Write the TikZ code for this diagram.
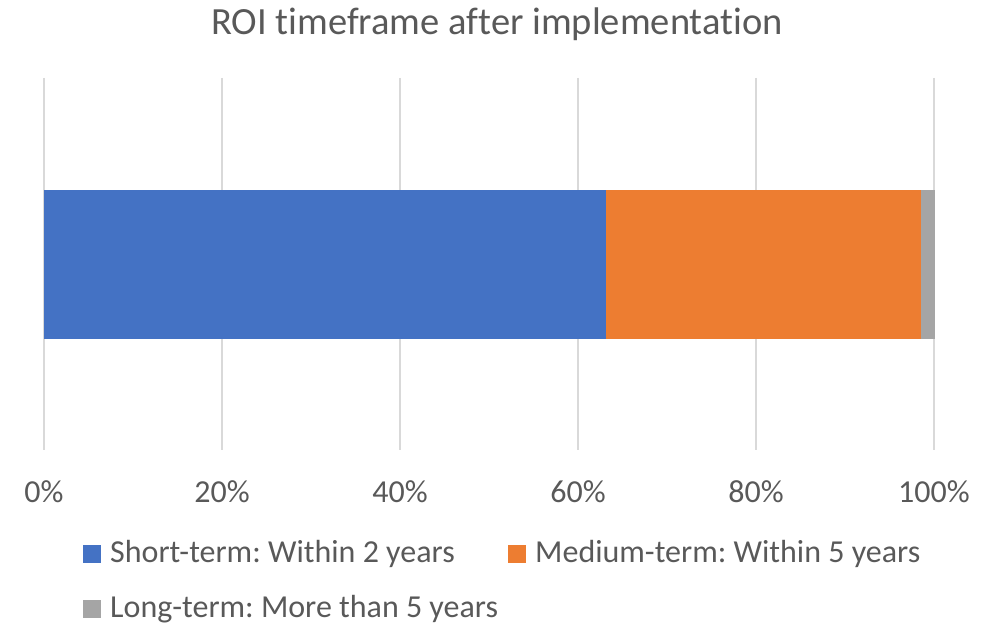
\documentclass[tikz,border=0pt]{standalone}
\usepackage{fontspec}
\setmainfont{Carlito}[Ligatures=NoCommon]
\frenchspacing
\definecolor{txt}{HTML}{595959}
\definecolor{gridc}{HTML}{D9D9D9}
\definecolor{sblue}{HTML}{4472C4}
\definecolor{sorange}{HTML}{ED7D31}
\definecolor{sgray}{HTML}{A5A5A5}
\tikzset{
  gridline/.style={draw=gridc, line width=2bp},
  ticklab/.style={text=txt, font=\fontsize{32bp}{38bp}\selectfont, anchor=base, inner sep=0pt},
  leglab/.style={text=txt, font=\fontsize{32bp}{38bp}\selectfont, anchor=base west, inner sep=0pt},
  legkey/.style={minimum size=18bp, inner sep=0pt, anchor=center},
  seg/.style={draw=none}
}
\begin{document}
\begin{tikzpicture}[x=1bp, y=-1bp]
\useasboundingbox (0,0) rectangle (992,623);
\node[text=txt, font=\fontsize{38.5bp}{46bp}\selectfont, anchor=base, inner sep=0pt] (title) at (497,35) {ROI timeframe after implementation};
\foreach \i/\p in {0/0,1/20,2/40,3/60,4/80,5/100} {
  \coordinate (gt\i) at ({44+178*\i},78);
  \coordinate (gb\i) at ({44+178*\i},450);
  \draw[gridline] (gt\i) -- (gb\i);
  \node[ticklab] (tl\i) at ({44+178*\i},502) {\p\%};
}
\fill[sblue] (44,190) rectangle (606,339);
\fill[sorange] (606,190) rectangle (921,339);
\fill[sgray] (921,190) rectangle (935,339);
\node[legkey, fill=sblue] (k1) at (92,554) {};
\node[leglab] (l1) at (110,562) {Short-term: Within 2 years};
\node[legkey, fill=sorange] (k2) at (517,554) {};
\node[leglab] (l2) at (535,562) {Medium-term: Within 5 years};
\node[legkey, fill=sgray] (k3) at (92,609) {};
\node[leglab] (l3) at (110,617) {Long-term: More than 5 years};
\end{tikzpicture}
\end{document}
